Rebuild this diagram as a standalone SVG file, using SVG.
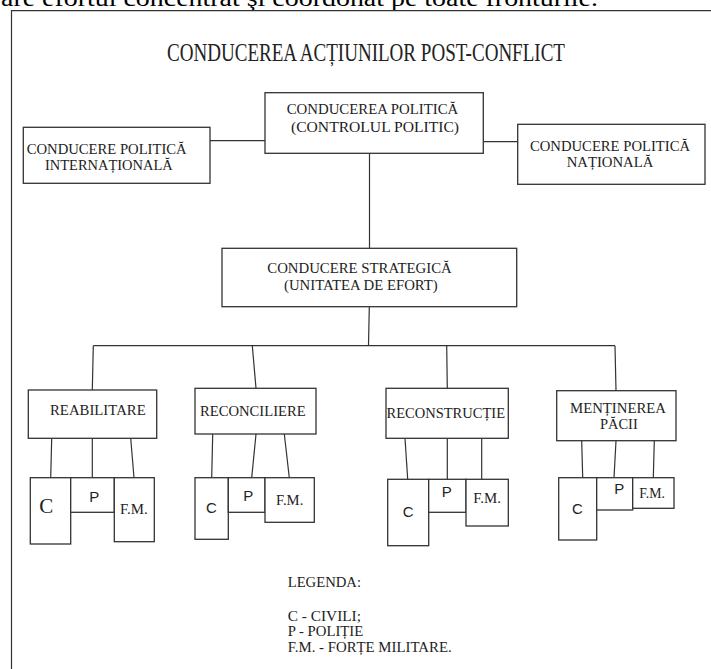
<svg xmlns="http://www.w3.org/2000/svg" width="711" height="669" viewBox="0 0 711 669">
<style>
.bx{fill:#fff;stroke:#333;stroke-width:1.3}
.ln{fill:none;stroke:#333;stroke-width:1.2}
.t{font-family:"Liberation Serif","Times New Roman",serif;font-size:15px;fill:#222}
.s{font-family:"Liberation Sans",Arial,sans-serif;fill:#222}
</style>
<rect x="0" y="0" width="711" height="669" fill="#fff"/>
<text x="1" y="6" font-family="Liberation Serif,serif" font-size="24" fill="#000" textLength="597" lengthAdjust="spacingAndGlyphs">are efortul concentrat şi coordonat pe toate fronturile.</text>
<g id="frame"><path class="ln" d="M11.5,669 V10.7 H711" stroke-width="1.4"/></g>
<text id="title" x="167" y="61" font-family="Liberation Serif,serif" font-size="25" fill="#222" textLength="398" lengthAdjust="spacingAndGlyphs">CONDUCEREA ACȚIUNILOR POST-CONFLICT</text>
<g id="connectors">
<line class="ln" x1="210" y1="140.7" x2="265" y2="140.7"/>
<line class="ln" x1="483.3" y1="141.7" x2="517.7" y2="141.7"/>
<line class="ln" x1="369.5" y1="153.3" x2="369.5" y2="248.3"/>
<line class="ln" x1="369.3" y1="306.7" x2="368.5" y2="345.7"/>
<line class="ln" x1="93.3" y1="345.7" x2="615" y2="345.7"/>
<line class="ln" x1="93.3" y1="345.7" x2="92.3" y2="390"/>
<line class="ln" x1="252.3" y1="345.7" x2="256" y2="388.3"/>
<line class="ln" x1="446.7" y1="345.7" x2="447.3" y2="388.3"/>
<line class="ln" x1="615" y1="345.7" x2="616" y2="390.7"/>
<line class="ln" x1="51.7" y1="438.3" x2="50.7" y2="477.7"/>
<line class="ln" x1="92.3" y1="438.3" x2="92.3" y2="477.7"/>
<line class="ln" x1="130.7" y1="438.3" x2="134" y2="477.7"/>
<line class="ln" x1="212.7" y1="434" x2="211.7" y2="477.7"/>
<line class="ln" x1="256" y1="434" x2="251.7" y2="477.7"/>
<line class="ln" x1="284.3" y1="434" x2="289.3" y2="477.7"/>
<line class="ln" x1="405" y1="438.3" x2="407.7" y2="479.3"/>
<line class="ln" x1="447.3" y1="438.3" x2="447.3" y2="479.3"/>
<line class="ln" x1="481.7" y1="438.3" x2="481.7" y2="479.3"/>
<line class="ln" x1="581.7" y1="440.7" x2="582.7" y2="477.7"/>
<line class="ln" x1="616" y1="440.7" x2="614" y2="477.7"/>
<line class="ln" x1="654.3" y1="440.7" x2="653.3" y2="477.7"/>
</g>
<g id="international">
<rect class="bx" x="23.3" y="127.3" width="186.7" height="56"/>
<text class="t" x="26.7" y="154" textLength="160" lengthAdjust="spacingAndGlyphs">CONDUCERE POLITICĂ</text>
<text class="t" x="45" y="170" textLength="127.7" lengthAdjust="spacingAndGlyphs">INTERNAȚIONALĂ</text>
</g>
<g id="politica">
<rect class="bx" x="265" y="92.7" width="218.3" height="60.6"/>
<text class="t" x="286.7" y="114.3" textLength="171.6" lengthAdjust="spacingAndGlyphs">CONDUCEREA POLITICĂ</text>
<text class="t" x="291" y="131.7" textLength="168" lengthAdjust="spacingAndGlyphs">(CONTROLUL POLITIC)</text>
</g>
<g id="nationala">
<rect class="bx" x="517.7" y="124.3" width="187.3" height="60"/>
<text class="t" x="530" y="150.7" textLength="160" lengthAdjust="spacingAndGlyphs">CONDUCERE POLITICĂ</text>
<text class="t" x="566.7" y="166.7" textLength="86.6" lengthAdjust="spacingAndGlyphs">NAȚIONALĂ</text>
</g>
<g id="strategica">
<rect class="bx" x="222" y="248.3" width="294.7" height="58.4"/>
<text class="t" x="267.3" y="273.3" textLength="184.4" lengthAdjust="spacingAndGlyphs">CONDUCERE STRATEGICĂ</text>
<text class="t" x="284" y="290" textLength="153.7" lengthAdjust="spacingAndGlyphs">(UNITATEA DE EFORT)</text>
</g>
<g id="reabilitare">
<rect class="bx" x="28.3" y="390" width="128.4" height="48.3"/>
<text class="t" x="50" y="415" textLength="95.7" lengthAdjust="spacingAndGlyphs">REABILITARE</text>
<rect class="bx" x="30.3" y="477.7" width="40.4" height="66.3"/>
<text x="39.3" y="513.3" font-family="Liberation Serif,serif" font-size="21" fill="#222">C</text>
<rect class="bx" x="70.7" y="477.7" width="43.6" height="34.6"/>
<text class="s" x="89.3" y="501.7" font-size="15">P</text>
<rect class="bx" x="114.3" y="477.7" width="40" height="64"/>
<text class="t" x="120" y="514.3" font-size="14" textLength="27.7" lengthAdjust="spacingAndGlyphs">F.M.</text>
</g>
<g id="reconciliere">
<rect class="bx" x="195" y="388.3" width="121" height="45.7"/>
<text class="t" x="200" y="416" textLength="105.7" lengthAdjust="spacingAndGlyphs">RECONCILIERE</text>
<rect class="bx" x="195" y="477.7" width="33.3" height="61.6"/>
<text class="s" x="206" y="513.3" font-size="15">C</text>
<rect class="bx" x="228.3" y="477.7" width="36.7" height="34.6"/>
<text class="s" x="243.3" y="500.7" font-size="15">P</text>
<rect class="bx" x="265" y="477.7" width="49.3" height="44.6"/>
<text class="t" x="276" y="505" font-size="14" textLength="27.3" lengthAdjust="spacingAndGlyphs">F.M.</text>
</g>
<g id="reconstructie">
<rect class="bx" x="386" y="388.3" width="122.3" height="50"/>
<text class="t" x="386.5" y="417.7" textLength="118.5" lengthAdjust="spacingAndGlyphs">RECONSTRUCȚIE</text>
<rect class="bx" x="387.7" y="479.3" width="41" height="66.4"/>
<text class="s" x="402.7" y="517.3" font-size="15">C</text>
<rect class="bx" x="428.7" y="479.3" width="37.3" height="33"/>
<text class="s" x="441.7" y="496.7" font-size="15">P</text>
<rect class="bx" x="466" y="479.3" width="42.3" height="46.7"/>
<text class="t" x="473.3" y="503.3" font-size="14" textLength="27.7" lengthAdjust="spacingAndGlyphs">F.M.</text>
</g>
<g id="mentinerea">
<rect class="bx" x="556.7" y="390.7" width="119.3" height="50"/>
<text class="t" x="570" y="413.3" textLength="96" lengthAdjust="spacingAndGlyphs">MENȚINEREA</text>
<text class="t" x="600" y="429.3" textLength="37.7" lengthAdjust="spacingAndGlyphs">PĂCII</text>
<rect class="bx" x="558.7" y="477.7" width="38" height="62.3"/>
<text class="s" x="572" y="514" font-size="15">C</text>
<rect class="bx" x="596.7" y="477.7" width="36" height="32.3"/>
<text class="s" x="614.3" y="494" font-size="15">P</text>
<rect class="bx" x="632.7" y="477.7" width="41.3" height="30.6"/>
<text class="t" x="639.3" y="498.3" font-size="14" textLength="25.7" lengthAdjust="spacingAndGlyphs">F.M.</text>
</g>
<g id="legenda">
<text class="t" x="287.7" y="586.7" textLength="73.3" lengthAdjust="spacingAndGlyphs">LEGENDA:</text>
<text class="t" x="287.7" y="621" textLength="73.3" lengthAdjust="spacingAndGlyphs">C - CIVILI;</text>
<text class="t" x="287.7" y="636" textLength="75.6" lengthAdjust="spacingAndGlyphs">P - POLIȚIE</text>
<text class="t" x="287.7" y="651.7" textLength="164" lengthAdjust="spacingAndGlyphs">F.M. - FORȚE MILITARE.</text>
</g>
</svg>
